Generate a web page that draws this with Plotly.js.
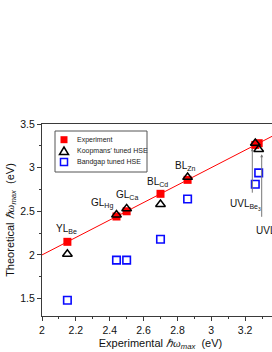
<!DOCTYPE html>
<html>
<head>
<meta charset="utf-8">
<script src="https://cdn.plot.ly/plotly-3.0.1.min.js"></script>
<style>
  html, body { margin: 0; padding: 0; overflow: hidden; background: #fff; }
  #chart { width: 290px; height: 352px; }
</style>
</head>
<body>
<div id="chart"></div>
<script>
// ---- data ----
const pointLabels = ['YL<sub>Be</sub>', 'GL<sub>Hg</sub>', 'GL<sub>Ca</sub>', 'BL<sub>Cd</sub>', 'BL<sub>Zn</sub>', 'UVL<sub>Be<sub>3</sub></sub>', 'UVL'];
const expX = [2.15, 2.44, 2.50, 2.70, 2.86, 3.26, 3.28];
const expY = [2.15, 2.44, 2.50, 2.70, 2.86, 3.26, 3.28];
const koopmansY = [2.01, 2.46, 2.53, 2.58, 2.89, 3.28, 3.21];
const bandgapY = [1.48, 1.94, 1.94, 2.18, 2.64, 2.81, 2.94];
const idealLine = [2.0, 3.4];
const seriesNames = ['Experiment', "Koopmans' tuned HSE", 'Bandgap tuned HSE'];
const xTickVals = [2, 2.2, 2.4, 2.6, 2.8, 3, 3.2];
const yTickVals = [1.5, 2, 2.5, 3, 3.5];
const xRange = [2, 3.4];
const yRange = [1.3, 3.5];

// ---- geometry / style ----
const W = 290, H = 352;
const M = { l: 42, r: 11, t: 124, b: 36 };
const plotW = W - M.l - M.r, plotH = H - M.t - M.b;
const px2paperX = px => (px - M.l) / plotW;
const px2paperY = py => 1 - (py - M.t) / plotH;

const RED = '#ff0000', BLUE = '#0a0aff', AXIS = '#3a3a3a';
const font = 'Liberation Sans, Arial, sans-serif';

const traces = [
  { x: idealLine, y: idealLine, mode: 'lines', line: { color: RED, width: 1 }, hoverinfo: 'skip', showlegend: false },
  { x: expX, y: expY, mode: 'markers', name: seriesNames[0],
    marker: { symbol: 'square', size: 8, color: RED, line: { width: 0 } } },
  { x: expX, y: koopmansY, mode: 'markers', name: seriesNames[1],
    marker: { symbol: 'triangle-up-open', size: 8.5, color: '#000', line: { width: 1.5, color: '#000' } } },
  { x: expX, y: bandgapY, mode: 'markers', name: seriesNames[2],
    marker: { symbol: 'square-open', size: 7.5, color: BLUE, line: { width: 1.6, color: BLUE } } }
];

// label offsets (pixels) relative to the experiment point
const labelShift = [
  { dx: -1, dy: 13, xa: 'center' },
  { dx: -14, dy: 13, xa: 'center' },
  { dx: 0, dy: 16, xa: 'center' },
  { dx: -3, dy: 12, xa: 'center' },
  { dx: -2, dy: 14, xa: 'center' },
  { dx: -10, dy: -60, xa: 'center' },
  { dx: -5, dy: -87, xa: 'left' }
];

const annotations = pointLabels.map((t, i) => ({
  x: expX[i], y: expY[i], xref: 'x', yref: 'y', text: t, showarrow: false,
  xanchor: labelShift[i].xa, yanchor: 'middle',
  xshift: labelShift[i].dx, yshift: labelShift[i].dy,
  font: { family: font, size: 10, color: '#111' }
}));

// arrows from the UVL labels up to the points
[[5, -3, 52], [6, 3, 70]].forEach(([i, sx, ay]) => {
  annotations.push({
    x: expX[i], y: koopmansY[i], xref: 'x', yref: 'y', text: ' ', showarrow: true,
    ax: 0, ay: ay, xshift: sx, standoff: 5, arrowhead: 2, arrowsize: 0.6, arrowwidth: 1,
    arrowcolor: '#777', font: { size: 2 }
  });
});

// legend (drawn by hand to keep the compact spacing of the reference)
const legendRowsPx = [139.7, 151, 162];
const shapes = [
  { type: 'rect', xref: 'paper', yref: 'paper',
    x0: px2paperX(55), x1: px2paperX(147), y0: px2paperY(172), y1: px2paperY(131),
    line: { color: '#555', width: 1 }, fillcolor: '#fff', layer: 'below' }
];
const gx = px2paperX(64);
// red square
shapes.push({ type: 'rect', xref: 'paper', yref: 'paper', xsizemode: 'pixel', ysizemode: 'pixel',
  xanchor: gx, yanchor: px2paperY(legendRowsPx[0]), x0: -3.5, x1: 3.5, y0: -3.5, y1: 3.5,
  fillcolor: RED, line: { width: 0 } });
// triangle
shapes.push({ type: 'path', xref: 'paper', yref: 'paper', xsizemode: 'pixel', ysizemode: 'pixel',
  xanchor: gx, yanchor: px2paperY(legendRowsPx[1]), path: 'M-4.5,-3.5 L4.5,-3.5 L0,4 Z',
  fillcolor: 'rgba(0,0,0,0)', line: { color: '#000', width: 1.5 } });
// blue square
shapes.push({ type: 'rect', xref: 'paper', yref: 'paper', xsizemode: 'pixel', ysizemode: 'pixel',
  xanchor: gx, yanchor: px2paperY(legendRowsPx[2]), x0: -3.5, x1: 3.5, y0: -3.5, y1: 3.5,
  fillcolor: 'rgba(0,0,0,0)', line: { color: BLUE, width: 1.5 } });

seriesNames.forEach((n, i) => {
  annotations.push({ xref: 'paper', yref: 'paper', x: px2paperX(75), y: px2paperY(legendRowsPx[i]),
    xanchor: 'left', yanchor: 'middle', text: n, showarrow: false,
    font: { family: font, size: 7, color: '#222' } });
});

const layout = {
  width: W, height: H, margin: M,
  paper_bgcolor: '#fff', plot_bgcolor: '#fff',
  showlegend: false,
  font: { family: font, color: '#111' },
  xaxis: {
    range: xRange, tickmode: 'array', tickvals: xTickVals,
    showgrid: false, zeroline: false, showline: true, linecolor: AXIS, linewidth: 1, mirror: true,
    ticks: 'outside', ticklen: 4, tickwidth: 1, tickcolor: AXIS,
    minor: { dtick: 0.1, ticks: 'outside', ticklen: 2, tickwidth: 1, tickcolor: AXIS, showgrid: false },
    tickfont: { family: font, size: 10.5, color: '#111' },
    title: { text: 'Experimental <span style="font-family:Liberation Serif"><i>ℏω</i></span><sub><i>max</i></sub>  (eV)',
      font: { family: font, size: 11, color: '#111' }, standoff: 4 }
  },
  yaxis: {
    range: yRange, tickmode: 'array', tickvals: yTickVals,
    showgrid: false, zeroline: false, showline: true, linecolor: AXIS, linewidth: 1, mirror: true,
    ticks: 'outside', ticklen: 4, tickwidth: 1, tickcolor: AXIS,
    minor: { dtick: 0.25, ticks: 'outside', ticklen: 2, tickwidth: 1, tickcolor: AXIS, showgrid: false },
    tickfont: { family: font, size: 10.5, color: '#111' },
    title: { text: 'Theoretical <span style="font-family:Liberation Serif"><i>ℏω</i></span><sub><i>max</i></sub>  (eV)',
      font: { family: font, size: 11, color: '#111' }, standoff: 3 }
  },
  annotations: annotations,
  shapes: shapes
};

Plotly.newPlot('chart', traces, layout, { displayModeBar: false, staticPlot: true });
</script>
</body>
</html>
